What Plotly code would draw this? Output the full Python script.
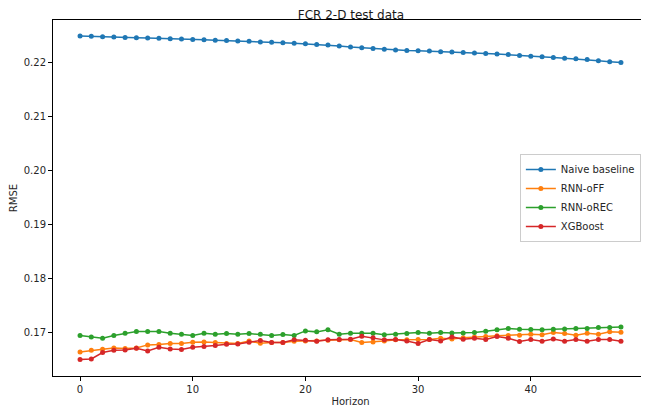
import plotly.graph_objects as go

horizon = list(range(49))

naive_baseline = [0.22481, 0.22478, 0.22469, 0.22466, 0.22456, 0.22452, 0.22444, 0.22440,
                  0.22431, 0.22427, 0.22419, 0.22413, 0.22405, 0.22399, 0.22392, 0.22384,
                  0.22373, 0.22365, 0.22357, 0.22347, 0.22338, 0.22327, 0.22316, 0.22299,
                  0.22280, 0.22265, 0.22250, 0.22236, 0.22222, 0.22215, 0.22209, 0.22203,
                  0.22191, 0.22185, 0.22176, 0.22170, 0.22160, 0.22148, 0.22138, 0.22123,
                  0.22110, 0.22098, 0.22086, 0.22073, 0.22061, 0.22046, 0.22026, 0.22008,
                  0.21993]

rnn_off = [0.16641, 0.16672, 0.16691, 0.16715, 0.16703, 0.16715, 0.16771, 0.16777,
           0.16796, 0.16796, 0.16820, 0.16826, 0.16814, 0.16796, 0.16796, 0.16842,
           0.16802, 0.16814, 0.16814, 0.16839, 0.16845, 0.16845, 0.16857, 0.16864,
           0.16870, 0.16814, 0.16826, 0.16845, 0.16864, 0.16864, 0.16870, 0.16870,
           0.16894, 0.16882, 0.16901, 0.16919, 0.16925, 0.16938, 0.16944, 0.16950,
           0.16969, 0.16957, 0.16999, 0.16981, 0.16950, 0.16987, 0.16969, 0.17012,
           0.17006]

rnn_orec = [0.16944, 0.16919, 0.16894, 0.16944, 0.16987, 0.17018, 0.17018, 0.17018,
            0.16987, 0.16969, 0.16944, 0.16987, 0.16969, 0.16981, 0.16969, 0.16981,
            0.16969, 0.16944, 0.16963, 0.16944, 0.17030, 0.17012, 0.17049, 0.16969,
            0.16987, 0.16987, 0.16987, 0.16957, 0.16969, 0.16981, 0.16999, 0.16987,
            0.16999, 0.16993, 0.16993, 0.16999, 0.17024, 0.17049, 0.17074, 0.17061,
            0.17055, 0.17049, 0.17061, 0.17067, 0.17074, 0.17074, 0.17092, 0.17092,
            0.17104]

xgboost = [0.16499, 0.16512, 0.16629, 0.16672, 0.16678, 0.16709, 0.16660, 0.16728,
           0.16697, 0.16685, 0.16728, 0.16740, 0.16759, 0.16783, 0.16789, 0.16820,
           0.16851, 0.16814, 0.16814, 0.16864, 0.16857, 0.16839, 0.16864, 0.16870,
           0.16876, 0.16931, 0.16901, 0.16864, 0.16870, 0.16845, 0.16796, 0.16870,
           0.16845, 0.16919, 0.16876, 0.16894, 0.16870, 0.16925, 0.16894, 0.16833,
           0.16870, 0.16839, 0.16882, 0.16839, 0.16870, 0.16839, 0.16870, 0.16870,
           0.16839]

series_names = ["Naive baseline", "RNN-oFF", "RNN-oREC", "XGBoost"]
series_colors = ["#1f77b4", "#ff7f0e", "#2ca02c", "#d62728"]
series_values = [naive_baseline, rnn_off, rnn_orec, xgboost]

x_ticks = [0, 10, 20, 30, 40, 50]
y_ticks = [0.17, 0.18, 0.19, 0.20, 0.21, 0.22]

fig = go.Figure()
for name, color, vals in zip(series_names, series_colors, series_values):
    fig.add_trace(go.Scatter(
        x=horizon, y=vals, name=name, mode="lines+markers",
        line=dict(color=color, width=1.5),
        marker=dict(color=color, size=5),
    ))

axis_common = dict(
    showline=True, linecolor="black", linewidth=1, mirror=True,
    ticks="outside", ticklen=4, tickwidth=1, tickcolor="black",
    showgrid=False, zeroline=False,
    tickfont=dict(family="DejaVu Sans", size=10, color="#262626"),
)

# the page body adds an 8px offset, so the figure is sized to 641x402
fig.update_layout(
    width=641, height=402,
    margin=dict(l=45, r=1, t=12, b=34),
    paper_bgcolor="white", plot_bgcolor="white",
    font=dict(family="DejaVu Sans", size=10, color="#262626"),
    title=dict(text="FCR 2-D test data", x=0.535, xanchor="center", y=0.984, yanchor="middle",
               font=dict(family="DejaVu Sans", size=12, color="#1a1a1a")),
    xaxis=dict(range=[-2.4, 50.4], tickvals=x_ticks,
               title=dict(text="Horizon", standoff=3, font=dict(size=10)), **axis_common),
    yaxis=dict(range=[0.16196, 0.22778], tickvals=y_ticks, tickformat=".2f",
               title=dict(text="RMSE", standoff=4, font=dict(size=10)), **axis_common),
    legend=dict(x=0.988, xanchor="right", y=0.5, yanchor="middle",
                bgcolor="rgba(255,255,255,0.8)", bordercolor="#cccccc", borderwidth=1,
                font=dict(family="DejaVu Sans", size=10, color="#262626"),
                itemwidth=30, tracegroupgap=0),
    showlegend=True,
)

fig.write_html("out.html")
